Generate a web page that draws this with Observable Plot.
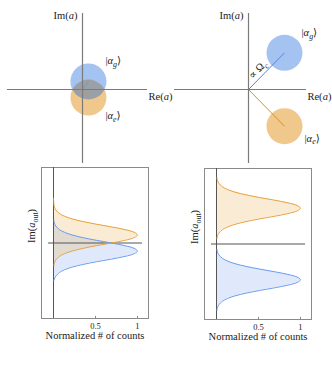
<!DOCTYPE html>
<html><head><meta charset="utf-8">
<script src="https://cdn.jsdelivr.net/npm/d3@7"></script>
<script src="https://cdn.jsdelivr.net/npm/@observablehq/plot@0.6"></script>
<style>
html,body{margin:0;padding:0;background:#fff;}
#fig{position:relative;width:332px;height:367px;overflow:hidden;background:#fff;}
#fig svg{position:absolute;overflow:visible;background:transparent !important;}
#fig svg text{font-family:"Liberation Serif","DejaVu Serif",serif;fill:#222;}
</style></head><body><div id="fig"></div>
<script>
// ---------- data ----------
const stateKeys = ["g", "e"];
// top-left phase space (small separation)
const tlRe = [0.33, 0.33];
const tlIm = [0.45, -0.45];
// top-right phase space (large separation)
const trRe = [2.0, 2.0];
const trIm = [2.04, -2.04];
// axis extents (in phase-space units)
const tlReAxis = [-4.17, 3.61];
const trReAxis = [-4.11, 3.22];
const imAxis = [-4.11, 4.22];

// bottom-left histograms
const blOrangeIm = [2.5, 2.15, 2.0, 1.85, 1.65, 1.5, 1.35, 1.2, 1.05, 0.9, 0.75, 0.6, 0.45, 0.3, 0.15, 0.0, -0.15, -0.3, -0.45, -0.6, -0.75, -0.95, -1.1, -1.25];
const blOrangeCount = [0.0, 0.005, 0.012, 0.027, 0.07, 0.13, 0.22, 0.35, 0.51, 0.69, 0.85, 0.96, 1.0, 0.96, 0.85, 0.69, 0.51, 0.35, 0.22, 0.13, 0.07, 0.027, 0.012, 0.005];
const blBlueIm = [1.25, 1.1, 0.95, 0.75, 0.6, 0.45, 0.3, 0.15, 0.0, -0.15, -0.3, -0.45, -0.6, -0.75, -0.9, -1.05, -1.2, -1.35, -1.5, -1.65, -1.85, -2.1];
const blBlueCount = [0.005, 0.012, 0.027, 0.07, 0.13, 0.22, 0.35, 0.51, 0.69, 0.85, 0.96, 1.0, 0.96, 0.85, 0.69, 0.51, 0.35, 0.22, 0.13, 0.07, 0.027, 0.003];
// bottom-right histograms
const brOrangeIm = [3.7, 3.55, 3.4, 3.2, 3.05, 2.9, 2.75, 2.6, 2.45, 2.3, 2.15, 2.0, 1.85, 1.7, 1.55, 1.4, 1.25, 1.1, 0.95, 0.8, 0.6, 0.45, 0.3];
const brOrangeCount = [0.005, 0.012, 0.027, 0.07, 0.13, 0.22, 0.35, 0.51, 0.69, 0.85, 0.96, 1.0, 0.96, 0.85, 0.69, 0.51, 0.35, 0.22, 0.13, 0.07, 0.027, 0.012, 0.005];
const brBlueIm = [-0.3, -0.45, -0.6, -0.8, -0.95, -1.1, -1.25, -1.4, -1.55, -1.7, -1.85, -2.0, -2.15, -2.3, -2.45, -2.6, -2.75, -2.9, -3.05, -3.2, -3.4, -3.55, -3.7];
const brBlueCount = [0.005, 0.012, 0.027, 0.07, 0.13, 0.22, 0.35, 0.51, 0.69, 0.85, 0.96, 1.0, 0.96, 0.85, 0.69, 0.51, 0.35, 0.22, 0.13, 0.07, 0.027, 0.012, 0.005];
const xTicks = [0.5, 1];
const xTickLabels = ["0.5", "1"];

// ---------- styles ----------
const blueCircle = "rgb(5,88,213)", orangeCircle = "rgb(228,155,46)";
const blueLine = "#6d9ded", orangeLine = "#e8a23c";
const axisGrey = "#7a7a7a";
const labelSize = 10.5;

function rich(svg) {
  d3.select(svg).selectAll("text").each(function () {
    const s = this.textContent;
    if (!/[~_]/.test(s)) return;
    while (this.firstChild) this.removeChild(this.firstChild);
    let it = false, sub = false, buf = "", shift = 0;
    const el = this;
    function flush() {
      if (!buf) return;
      const t = document.createElementNS("http://www.w3.org/2000/svg", "tspan");
      t.textContent = buf;
      if (it) t.setAttribute("font-style", "italic");
      const want = sub ? 2.8 : 0;
      if (want !== shift) { t.setAttribute("dy", want - shift); shift = want; }
      if (sub) t.setAttribute("font-size", "76%");
      el.appendChild(t); buf = "";
    }
    for (let i = 0; i < s.length; i++) {
      const c = s[i];
      if (c === "~") { flush(); it = !it; }
      else if (c === "_" && s[i + 1] === "{") { flush(); sub = true; i++; }
      else if (c === "}" && sub) { flush(); sub = false; }
      else buf += c;
    }
    flush();
  });
}

function place(svg, left, top) {
  svg.style.left = left + "px";
  svg.style.top = top + "px";
  svg.style.background = "transparent";
  svg.style.maxWidth = "none";
  rich(svg);
  document.getElementById("fig").appendChild(svg);
}

function topPanel(re, im, reAxis, kets, omega) {
  const S = re.map((r, i) => ({re: r, im: im[i], key: stateKeys[i]}));
  const g = S.filter(d => d.key === "g"), e = S.filter(d => d.key === "e");
  const marks = [
    Plot.dot(e, {x: "re", y: "im", r: 18, fill: orangeCircle, fillOpacity: 0.55, stroke: null}),
    Plot.dot(g, {x: "re", y: "im", r: 18, fill: blueCircle, fillOpacity: 0.36, stroke: null}),
    Plot.link(g, {x1: 0, y1: 0, x2: "re", y2: "im", stroke: "#4f88e0", strokeWidth: 1, strokeOpacity: omega ? 1 : 0.45}),
    Plot.link(e, {x1: 0, y1: 0, x2: "re", y2: "im", stroke: "#d8901e", strokeWidth: 1, strokeOpacity: omega ? 1 : 0.45}),
    Plot.ruleY([0], {x1: reAxis[0], x2: reAxis[1], stroke: axisGrey, strokeWidth: 1.2}),
    Plot.ruleX([0], {y1: imAxis[0], y2: imAxis[1], stroke: axisGrey, strokeWidth: 1.2}),
    Plot.text(["Re(~a~)"], {text: d => d, x: reAxis[1], y: 0, textAnchor: "start", dx: 1, dy: 7, fontSize: labelSize}),
    Plot.text(["Im(~a~)"], {text: d => d, x: 0, y: imAxis[1], textAnchor: "end", dx: -5, dy: 2, fontSize: labelSize}),
    Plot.text(g, {x: "re", y: "im", text: () => "|~α~_{~g~}⟩", textAnchor: "start", dx: kets[0][0], dy: kets[0][1], fontSize: labelSize}),
    Plot.text(e, {x: "re", y: "im", text: () => "|~α~_{~e~}⟩", textAnchor: "start", dx: kets[1][0], dy: kets[1][1], fontSize: labelSize})
  ];
  if (omega) marks.push(Plot.text(g, {x: d => d.re / 2, y: d => d.im / 2, text: () => "∝ Ω_{~c~}", rotate: -45, dx: -8.7, dy: -1.5, fontSize: labelSize}));
  return Plot.plot({
    width: 166, height: 165, margin: 0,
    x: {domain: [-82 / 18, 84 / 18], axis: null},
    y: {domain: [-76 / 18, 89 / 18], axis: null},
    marks
  });
}

function bottomPanel(oIm, oC, bIm, bC) {
  const O = oIm.map((y, i) => ({im: y, count: oC[i]}));
  const B = bIm.map((y, i) => ({im: y, count: bC[i]}));
  const yDom = [-4.22, 4.22];
  const svg = Plot.plot({
    width: 166, height: 200,
    marginLeft: 41, marginRight: 18, marginTop: 7, marginBottom: 42,
    x: {domain: [-0.143, 1.131], ticks: xTicks, tickFormat: (d) => xTickLabels[xTicks.indexOf(d)], tickSize: 0, tickPadding: 4, label: null},
    y: {domain: yDom, axis: null},
    marks: [
      Plot.frame({stroke: "#8a8a8a"}),
      Plot.areaX(B, {y: "im", x: "count", fill: blueLine, fillOpacity: 0.22, curve: "catmull-rom"}),
      Plot.areaX(O, {y: "im", x: "count", fill: orangeLine, fillOpacity: 0.22, curve: "catmull-rom"}),
      Plot.ruleX([0], {stroke: "#555", strokeWidth: 1}),
      Plot.ruleY([0], {x1: -0.06, x2: 1.06, stroke: "#555", strokeWidth: 1}),
      Plot.lineX(B, {y: "im", x: "count", stroke: blueLine, strokeWidth: 1, curve: "catmull-rom"}),
      Plot.lineX(O, {y: "im", x: "count", stroke: orangeLine, strokeWidth: 1, curve: "catmull-rom"}),
      Plot.ruleX(xTicks, {y1: yDom[0], y2: yDom[0] + 0.12, stroke: "#888"}),
      Plot.text(["Normalized # of counts"], {text: d => d, frameAnchor: "bottom", dy: 20, fontSize: 10.5}),
      Plot.text(["Im(~a~_{out})"], {text: d => d, frameAnchor: "left", dx: -10, rotate: -90, fontSize: 10.5})
    ]
  });
  svg.style.fontSize = "8.5px";
  return svg;
}

place(topPanel(tlRe, tlIm, tlReAxis, [[17, -21], [17, 18]], false), 0, 0);
place(topPanel(trRe, trIm, trReAxis, [[17, -20], [20, 12]], true), 166, 0);
place(bottomPanel(blOrangeIm, blOrangeCount, blBlueIm, blBlueCount), 0, 160);
place(bottomPanel(brOrangeIm, brOrangeCount, brBlueIm, brBlueCount), 163, 161);
</script></body></html>
